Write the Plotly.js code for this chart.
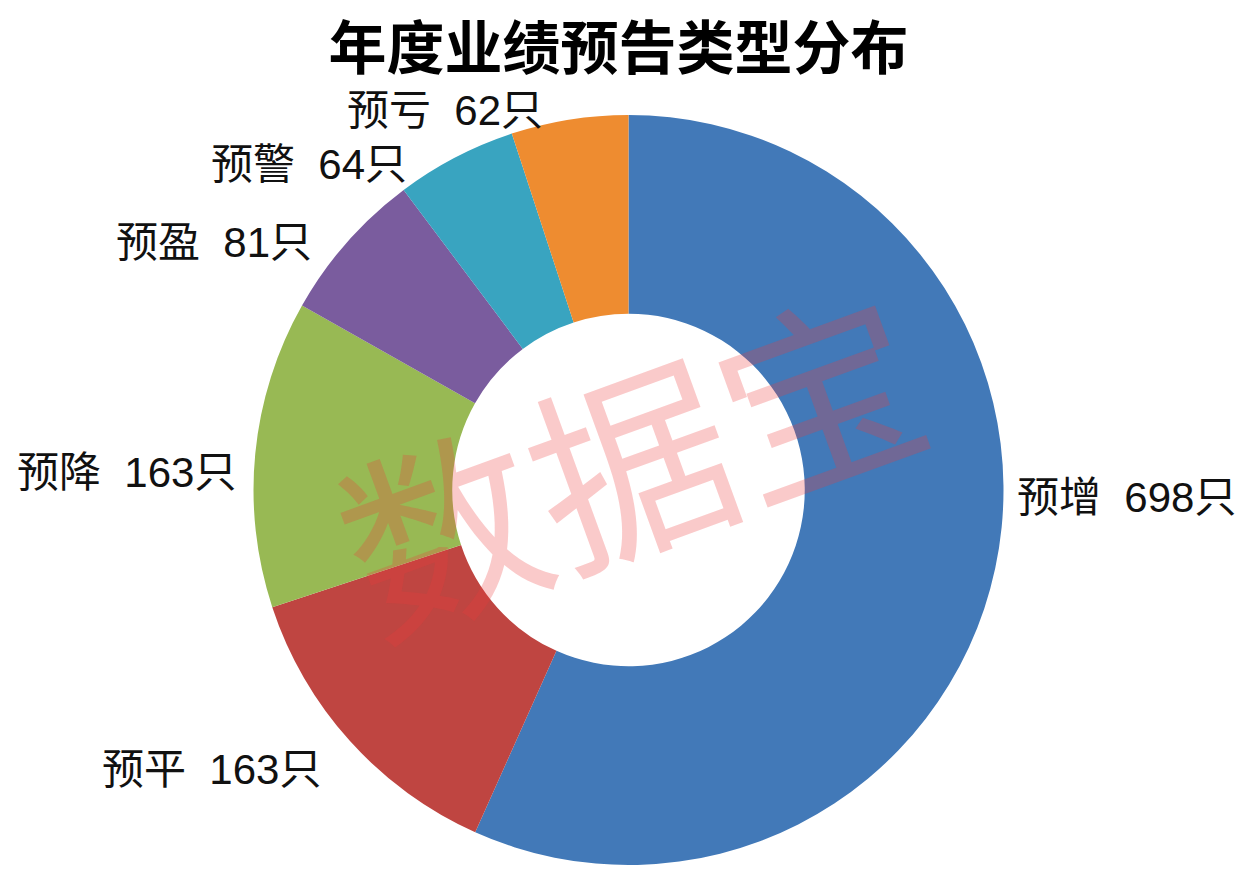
<!DOCTYPE html>
<html>
<head>
<meta charset="utf-8">
<script src="https://cdn.plot.ly/plotly-3.0.1.min.js"></script>
<style>html,body{margin:0;padding:0;background:#fff;}#chart{width:1257px;height:878px;}</style>
</head>
<body>
<div id="chart"></div>
<script>
const categories = ["预增", "预平", "预降", "预盈", "预警", "预亏"];
const counts = [698, 163, 163, 81, 64, 62];
const unit = "只";
const chartTitle = "年度业绩预告类型分布";
const watermark = "数据宝";

// styling / layout (not data)
const sliceColors = ["#4279b8", "#bf4541", "#98b954", "#7a5c9e", "#39a4c0", "#ee8c30"];
// label anchor positions in pixels (left edge, vertical middle)
const labelPx = [[1015, 497], [100, 769], [15, 472], [114, 243], [209, 164], [345, 111]];

const W = 1257, H = 878, MT = 115, MB = 13;
const plotH = H - MT - MB;
const toPaperX = px => px / W;
const toPaperY = py => (H - MB - py) / plotH;

const trace = {
  type: "pie",
  labels: categories,
  values: counts,
  sort: false,
  direction: "clockwise",
  rotation: 0,
  hole: 0.47,
  marker: { colors: sliceColors, line: { width: 0 } },
  textinfo: "none",
  domain: { x: [0, 1], y: [0, 1] },
  hoverinfo: "none"
};

const labelFont = { family: "Liberation Sans, Noto Sans CJK SC", size: 42, color: "#111" };
const annotations = categories.map((c, i) => ({
  text: c + "\u00a0\u00a0" + counts[i] + unit,
  xref: "paper", yref: "paper",
  x: toPaperX(labelPx[i][0]), y: toPaperY(labelPx[i][1]),
  xanchor: "left", yanchor: "middle",
  showarrow: false,
  font: labelFont
}));

annotations.push({
  text: watermark,
  xref: "paper", yref: "paper",
  x: toPaperX(628), y: toPaperY(455),
  xanchor: "center", yanchor: "middle",
  showarrow: false,
  textangle: -20,
  font: { family: "Noto Sans CJK SC", size: 200, color: "rgba(235,60,60,0.27)" }
});

const layout = {
  width: W,
  height: H,
  margin: { l: 0, r: 0, t: MT, b: MB },
  paper_bgcolor: "#ffffff",
  showlegend: false,
  title: {
    text: "<b>" + chartTitle + "</b>",
    font: { family: "Noto Sans CJK SC", size: 58, color: "#000" },
    x: 0.492, xanchor: "center", y: 0.944, yanchor: "middle"
  },
  annotations: annotations
};

Plotly.newPlot("chart", [trace], layout, { displayModeBar: false, staticPlot: true });
</script>
</body>
</html>
